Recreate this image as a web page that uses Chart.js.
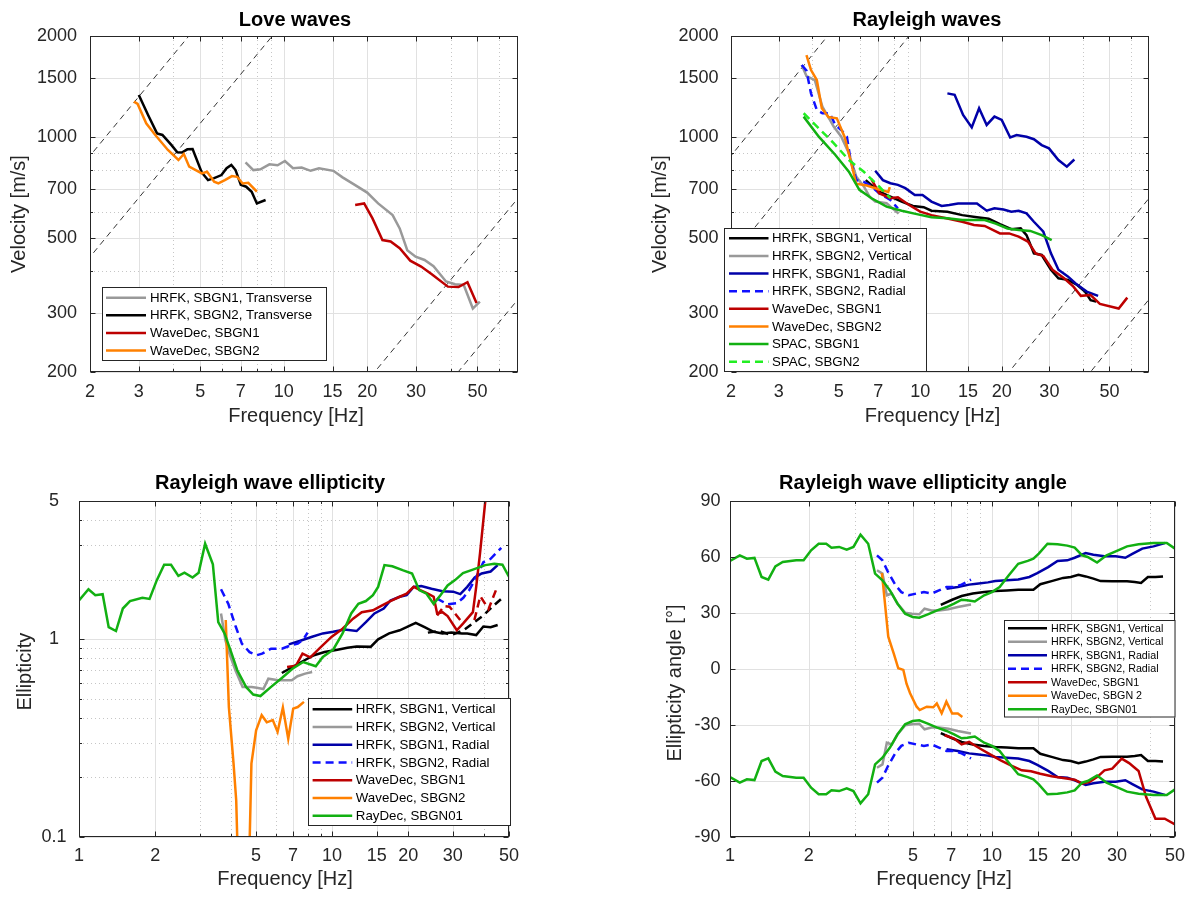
<!DOCTYPE html>
<html>
<head>
<meta charset="utf-8">
<script src="https://cdn.jsdelivr.net/npm/chart.js@4.4.1/dist/chart.umd.min.js"></script>
<style>
  html, body { margin: 0; padding: 0; background: #fff; }
  canvas { position: absolute; left: 0; top: 0; }
</style>
</head>
<body>
<canvas id="love" width="1192" height="897"></canvas>
<canvas id="rayleigh" width="1192" height="897"></canvas>
<canvas id="ellip" width="1192" height="897"></canvas>
<canvas id="angle" width="1192" height="897"></canvas>
<script>
// ---- tick values ----
const velTicks = [200, 300, 500, 700, 1000, 1500, 2000];
const freqTicksTop = [2, 3, 5, 7, 10, 15, 20, 30, 50];
const freqTicksBottom = [1, 2, 5, 7, 10, 15, 20, 30, 50];
const ellTicks = [0.1, 1, 5];
const angTicks = [-90, -60, -30, 0, 30, 60, 90];

// ---- constant-wavelength guide lines (f, v) ----
const guide440 = [[1, 440], [10, 4400]];
const guide220 = [[1, 220], [20, 4400]];
const guide9 = [[10, 94], [100, 940]];
const guide5 = [[10, 47], [100, 470]];

// ---- Love waves: [frequency Hz, velocity m/s] ----
const loveHrfk1T = [[7.28,841],[7.77,798],[8.24,802],[8.88,830],[9.5,825],[10.1,849],[10.8,808],[11.6,812],[12.5,794],[13.4,808],[15.1,794],[16.3,759],[17.8,726],[20.0,684],[21.9,635],[24.7,586],[26.2,535],[27.9,461],[29.9,441],[32.2,431],[34.7,413],[38.5,372],[41.5,365],[44.6,363],[48.1,309],[51.0,324]];
const loveHrfk2T = [[3.0,1334],[3.24,1164],[3.49,1026],[3.65,1015],[3.93,948],[4.13,902],[4.29,900],[4.49,920],[4.69,922],[5.06,785],[5.33,745],[5.61,755],[5.96,771],[6.22,808],[6.47,826],[6.7,798],[7.0,721],[7.32,712],[7.66,688],[8.0,635],[8.6,650]];
const loveWd1 = [[18.1,628],[19.5,635],[20.9,573],[22.7,494],[24.3,489],[26.2,467],[28.6,429],[31.3,412],[34.2,391],[39.1,359],[42.7,358],[46.0,370],[49.6,321]];
const loveWd2 = [[2.88,1276],[2.97,1256],[3.19,1099],[3.44,1015],[3.82,916],[4.17,855],[4.36,891],[4.56,817],[5.06,780],[5.29,789],[5.61,737],[5.81,728],[6.13,745],[6.5,766],[6.79,762],[7.11,728],[7.45,731],[8.0,688]];

// ---- Rayleigh waves: [frequency Hz, velocity m/s] ----
const rayHrfk1V = [[6.29,745],[7.05,688],[7.76,665],[8.54,643],[9.4,624],[10.3,619],[11.0,604],[12.6,600],[14.3,586],[16.2,578],[17.9,572],[19.7,551],[21.7,532],[23.5,535],[24.7,511],[26.3,451],[28.1,446],[30.4,403],[32.4,380],[35.1,376],[38.0,363],[40.6,347],[42.6,327],[44.7,324]];
const rayHrfk2V = [[3.65,1640],[3.8,1520],[4.08,1479],[4.35,1233],[4.79,1075],[5.11,1003],[5.45,895],[5.81,762],[6.19,713],[6.5,665],[6.82,643],[7.51,636],[8.32,592]];
const rayHrfk1R = [[6.82,794],[7.28,745],[7.76,729],[8.27,721],[8.81,705],[9.55,673],[10.2,673],[11.0,643],[12.0,624],[12.8,628],[13.8,635],[16.2,635],[17.6,604],[18.8,614],[20.3,609],[21.7,600],[23.1,604],[24.7,593],[26.3,560],[28.5,523],[30.4,451],[32.4,403],[35.1,385],[37.5,367],[41.2,347],[45.4,337],
  [12.6,null],
  [12.6,1350],[13.4,1337],[14.4,1164],[15.5,1069],[16.5,1219],[17.6,1087],[18.8,1151],[20.0,1125],[21.5,998],[22.7,1014],[24.7,1003],[26.3,986],[28.1,947],[29.9,926],[32.4,855],[34.8,817],[37.1,858]];
const rayHrfk2R = [[3.65,1640],[3.8,1577],[3.95,1350],[4.15,1205],[4.35,1178],[4.63,1178],[4.86,1087],[5.11,1050],[5.36,1003],[5.53,855],[5.81,745],[6.19,736],[6.61,713],[7.05,681],[7.76,650],[8.27,614]];
const rayWd1 = [[6.6,750],[7.05,681],[7.76,658],[8.27,662],[9.1,628],[10.0,600],[11.0,586],[12.6,573],[14.3,560],[15.8,548],[17.3,544],[19.7,517],[21.3,517],[23.1,506],[25.0,489],[26.7,451],[28.5,443],[30.8,403],[34.0,380],[36.8,359],[39.2,337],[42.6,339],[46.1,319],[54.1,309],[58.2,333]];
const rayWd2 = [[3.8,1755],[3.95,1584],[4.15,1479],[4.33,1220],[4.58,1148],[4.92,1138],[5.26,1000],[5.49,873],[5.8,727],[6.35,718],[7.0,700],[7.62,687],[7.72,710]];
const raySpac1 = [[3.71,1151],[4.22,1003],[4.86,885],[5.45,789],[5.96,697],[6.61,658],[7.51,621],[8.54,604],[9.71,590],[11.0,578],[12.6,574],[14.3,567],[17.3,567],[19.0,553],[21.0,535],[23.1,529],[25.5,526],[28.1,511],[30.6,494]];
const raySpac2 = [[3.71,1178],[4.22,1062],[4.79,960],[5.45,855],[6.19,789],[7.05,713],[7.76,658]];

// ---- Rayleigh wave ellipticity: [frequency Hz, H/V] ----
const ellHrfk1V = [[6.33,0.675],[6.97,0.724],[7.69,0.776],[8.48,0.83],[9.34,0.861],[10.5,0.885],[11.5,0.905],[12.5,0.92],[14.2,0.915],[15.2,0.999],[16.8,1.07],[18.5,1.11],[19.7,1.15],[21.4,1.21],[23.2,1.15],[25.2,1.09],[27.3,1.07],[29.6,1.08],[32.6,1.07],[34.2,1.07],[37.1,1.05],[39.6,1.16],[42.3,1.15],[45.1,1.18]];
const ellHrfk1Vb = [[23.9,1.08],[26.5,1.1],[29.6,1.05],[33.1,1.11],[36.5,1.22],[39.6,1.32],[43.0,1.46],[46.6,1.6]];
const ellHrfk2V = [[3.64,1.35],[3.79,0.986],[3.95,0.83],[4.15,0.697],[4.43,0.574],[4.81,0.574],[5.04,0.568],[5.35,0.56],[5.6,0.632],[6.13,0.62],[6.93,0.62],[7.3,0.65],[7.83,0.67],[8.34,0.683]];
const ellHrfk1R = [[6.74,0.942],[7.44,0.98],[8.34,1.03],[9.19,1.07],[10.1,1.09],[11.2,1.12],[12.5,1.1],[13.6,1.22],[14.7,1.35],[16.0,1.43],[17.0,1.57],[18.5,1.64],[19.7,1.67],[21.0,1.84],[22.5,1.86],[24.7,1.8],[27.3,1.75],[30.1,1.74],[32.1,1.69],[34.2,1.84],[36.6,2.05],[39.0,2.15],[42.3,2.2],[45.1,2.37]];
const ellHrfk2R = [[3.64,1.79],[3.89,1.51],[4.15,1.17],[4.4,0.95],[4.72,0.861],[5.04,0.83],[5.29,0.845],[5.74,0.896],[6.33,0.896],[6.86,0.931],[7.32,0.95],[7.69,0.995],[8.0,1.08],
  [8.0,null],
  [25.9,1.61],[28.6,1.5],[31.1,1.52],[33.0,1.62],[34.8,1.77],[36.6,1.99],[39.6,2.45],[42.3,2.55],[46.6,2.9]];
const ellWd1 = [[6.64,0.724],[7.2,0.735],[7.64,0.845],[8.2,0.81],[9.04,0.914],[9.97,1.03],[11.0,1.13],[12.1,1.27],[13.1,1.37],[14.5,1.4],[15.7,1.48],[17.0,1.56],[18.5,1.64],[19.7,1.7],[21.0,1.84],[22.3,1.77],[23.9,1.7],[25.2,1.64],[26.0,1.35],[27.3,1.37],[28.6,1.31],[31.1,1.11],[32.9,1.2],[36.0,1.37],[37.1,1.84],[38.4,2.71],[40.3,5.0],[41.3,6.0]];
const ellWd1b = [[26.0,1.32],[27.7,1.47],[29.1,1.46],[30.6,1.35],[32.6,1.22],
  [32.6,null],
  [36.5,1.25],[38.5,1.65],[41.5,1.42],[45.0,1.85]];
const ellWd2 = [[3.8,1.25],[3.91,0.454],[4.08,0.235],[4.18,0.153],[4.3,0.04],[4.65,0.04],[4.8,0.235],[5.01,0.346],[5.27,0.413],[5.52,0.38],[5.83,0.39],[6.09,0.34],[6.39,0.451],[6.71,0.314],[7.02,0.446],[7.32,0.454],[7.74,0.482]];
const ellRayDec = [[1.0,1.57],[1.09,1.79],[1.16,1.67],[1.24,1.69],[1.31,1.15],[1.4,1.1],[1.49,1.43],[1.59,1.56],[1.78,1.62],[1.9,1.6],[2.03,1.99],[2.17,2.38],[2.31,2.38],[2.47,2.09],[2.61,2.17],[2.81,2.05],[2.97,2.17],[3.15,3.04],[3.38,2.39],[3.55,1.22],[3.76,1.07],[4.01,0.845],[4.22,0.697],[4.57,0.574],[4.88,0.525],[5.21,0.516],[5.74,0.574],[6.33,0.637],[6.97,0.709],[7.69,0.767],[8.62,0.73],[9.19,0.813],[10.1,0.885],[11.0,1.07],[11.9,1.35],[12.7,1.51],[13.6,1.56],[14.5,1.67],[15.2,1.84],[16.1,2.37],[17.3,2.34],[19.1,2.23],[20.7,2.15],[22.1,1.77],[23.6,1.7],[25.2,1.51],[26.8,1.67],[28.6,1.87],[30.6,1.99],[32.9,2.16],[36.0,2.25],[40.3,2.37],[43.7,2.41],[47.1,2.38],[50.1,2.06]];

// ---- Rayleigh wave ellipticity angle: [frequency Hz, degrees], upper and lower branch ----
const angHrfk1V = [[6.38,34.3],[7.05,37.1],[7.66,39.1],[8.45,40.4],[9.34,41.2],[10.3,41.8],[11.4,42.1],[12.6,42.5],[14.4,42.5],[15.3,45.4],[16.9,47.1],[18.7,48.8],[20.0,49.3],[21.4,50.5],[22.8,49.6],[24.4,48.4],[26.0,47.1],[28.8,47.0],[32.8,47.0],[35.1,46.6],[37.1,46.1],[39.4,49.3],[42.1,49.3],[45.0,49.6],
  [45.0,null],
  [6.38,-34.3],[7.05,-37.1],[7.66,-39.1],[8.45,-40.4],[9.34,-41.2],[10.3,-41.8],[11.4,-42.1],[12.6,-42.5],[14.4,-42.5],[15.3,-45.4],[16.9,-47.1],[18.7,-48.8],[20.0,-49.3],[21.4,-50.5],[22.8,-49.6],[24.4,-48.4],[26.0,-47.1],[28.8,-47.0],[32.8,-47.0],[35.1,-46.6],[37.1,-46.1],[39.4,-49.3],[42.1,-49.3],[45.0,-49.6]];
const angHrfk2V = [[3.64,52.9],[3.82,51.1],[3.97,39.5],[4.15,40.4],[4.36,35.0],[4.66,30.2],[4.95,29.6],[5.28,29.3],[5.53,32.3],[5.88,31.4],[6.28,31.4],[6.82,32.0],[7.41,33.2],[8.32,34.5],
  [8.32,null],
  [3.64,-52.9],[3.82,-51.1],[3.97,-39.5],[4.15,-40.4],[4.36,-35.0],[4.66,-30.2],[4.95,-29.6],[5.28,-29.3],[5.53,-32.3],[5.88,-31.4],[6.28,-31.4],[6.82,-32.0],[7.41,-33.2],[8.32,-34.5]];
const angHrfk1R = [[6.71,43.0],[7.41,43.9],[8.18,45.2],[8.74,45.7],[9.66,46.4],[10.3,47.1],[11.4,47.5],[12.6,47.9],[13.9,49.3],[14.9,51.4],[16.4,54.6],[17.8,57.9],[19.4,58.2],[20.7,59.6],[22.8,62.1],[24.4,61.2],[26.9,60.4],[29.7,60.4],[32.3,59.6],[34.5,61.8],[37.5,64.5],[41.4,65.7],[45.7,67.5],
  [45.7,null],
  [6.71,-43.0],[7.41,-43.9],[8.18,-45.2],[8.74,-45.7],[9.66,-46.4],[10.3,-47.1],[11.4,-47.5],[12.6,-47.9],[13.9,-49.3],[14.9,-51.4],[16.4,-54.6],[17.8,-57.9],[19.4,-58.2],[20.7,-59.6],[22.8,-62.1],[24.4,-61.2],[26.9,-60.4],[29.7,-60.4],[32.3,-59.6],[34.5,-61.8],[37.5,-64.5],[41.4,-65.7],[45.7,-67.5]];
const angHrfk2R = [[3.64,60.9],[3.82,58.2],[4.01,52.0],[4.29,44.8],[4.51,41.2],[4.82,39.5],[5.14,40.4],[5.5,41.2],[5.88,40.4],[6.28,42.1],[6.71,43.9],[7.17,43.9],[7.66,45.2],[8.32,47.9],
  [8.32,null],
  [3.64,-60.9],[3.82,-58.2],[4.01,-52.0],[4.29,-44.8],[4.51,-41.2],[4.82,-39.5],[5.14,-40.4],[5.5,-41.2],[5.88,-40.4],[6.28,-42.1],[6.71,-43.9],[7.17,-43.9],[7.66,-45.2],[8.32,-47.9]];
const angWd1 = [[6.6,-35.5],[7.17,-37.3],[7.66,-40.4],[8.18,-39.1],[9.03,-42.7],[10.0,-46.3],[10.8,-48.9],[11.8,-51.6],[13.0,-54.3],[14.1,-54.8],[15.3,-56.1],[16.9,-57.5],[18.7,-58.4],[20.7,-59.3],[22.1,-61.4],[23.6,-60.5],[25.2,-57.9],[26.9,-54.3],[28.8,-53.4],[31.3,-48.0],[33.4,-50.4],[36.3,-54.6],[38.8,-68.6],[42.1,-80.2],[45.7,-80.2],[50,-83.2]];
const angWd2 = [[3.8,51.4],[3.85,43.9],[4.02,17.3],[4.22,8.2],[4.39,0.4],[4.59,-0.5],[4.72,-7.9],[4.87,-13.0],[5.16,-20.2],[5.3,-22.0],[5.64,-20.2],[5.97,-20.5],[6.16,-18.4],[6.43,-23.7],[6.7,-17.5],[7.05,-23.9],[7.41,-23.9],[7.71,-25.7]];
const angRayDec = [[1.0,57.9],[1.09,60.9],[1.16,59.1],[1.24,59.5],[1.32,49.3],[1.4,47.9],[1.49,55.0],[1.59,57.3],[1.79,58.2],[1.91,58.2],[2.04,63.6],[2.18,67.1],[2.33,67.1],[2.44,65.0],[2.61,65.4],[2.79,63.9],[2.96,65.4],[3.15,72.0],[3.37,67.1],[3.58,51.1],[3.82,47.5],[4.08,42.1],[4.36,35.0],[4.66,29.6],[4.98,27.9],[5.28,27.5],[5.69,29.3],[6.18,31.4],[6.71,33.2],[7.17,35.0],[7.66,37.1],[8.05,36.8],[8.6,36.2],[9.34,39.5],[10.0,41.2],[10.7,43.9],[11.6,50.2],[12.6,56.4],[13.7,57.9],[14.4,59.1],[15.1,61.8],[16.3,67.1],[17.8,66.8],[19.4,66.1],[20.7,65.0],[22.1,60.9],[23.2,60.0],[25.2,57.0],[27.4,60.9],[30.3,63.6],[32.8,65.7],[36.3,66.8],[41.4,67.5],[46.5,67.5],[50,64.5],
  [50,null],
  [1.0,-57.9],[1.09,-60.9],[1.16,-59.1],[1.24,-59.5],[1.32,-49.3],[1.4,-47.9],[1.49,-55.0],[1.59,-57.3],[1.79,-58.2],[1.91,-58.2],[2.04,-63.6],[2.18,-67.1],[2.33,-67.1],[2.44,-65.0],[2.61,-65.4],[2.79,-63.9],[2.96,-65.4],[3.15,-72.0],[3.37,-67.1],[3.58,-51.1],[3.82,-47.5],[4.08,-42.1],[4.36,-35.0],[4.66,-29.6],[4.98,-27.9],[5.28,-27.5],[5.69,-29.3],[6.18,-31.4],[6.71,-33.2],[7.17,-35.0],[7.66,-37.1],[8.05,-36.8],[8.6,-36.2],[9.34,-39.5],[10.0,-41.2],[10.7,-43.9],[11.6,-50.2],[12.6,-56.4],[13.7,-57.9],[14.4,-59.1],[15.1,-61.8],[16.3,-67.1],[17.8,-66.8],[19.4,-66.1],[20.7,-65.0],[22.1,-60.9],[23.2,-60.0],[25.2,-57.0],[27.4,-60.9],[30.3,-63.6],[32.8,-65.7],[36.3,-66.8],[41.4,-67.5],[46.5,-67.5],[50,-64.5]];

// ---- look ----
const INK = '#262626';
const FAM = '"Liberation Sans", Arial, Helvetica, sans-serif';
const C = { black: '#000000', gray: '#999999', navy: '#0000a8', blue: '#1010ff', red: '#bd0000', orange: '#ff8000', green: '#12b012', lime: '#22ee22' };
const DASH = [8, 5];

const xy = a => a.map(p => ({ x: p[0], y: p[1] }));
const series = (label, data, color, dash) => ({
  label, data: xy(data), borderColor: color, borderWidth: 2.5, borderDash: dash || [],
  pointRadius: 0, tension: 0, fill: false, spanGaps: false, clip: 0
});
const guide = data => ({ data: xy(data), borderColor: '#000', borderWidth: 0.8, borderDash: [6, 4.5], pointRadius: 0, tension: 0, clip: 0 });

function logMinor(min, max, majors) {
  const out = [];
  for (let e = -2; e <= 3; e++) for (let k = 1; k <= 9; k++) {
    const v = +(k * Math.pow(10, e)).toPrecision(4);
    if (v > min && v < max && !majors.some(m => Math.abs(m - v) < 1e-6 * v)) out.push(v);
  }
  return out;
}

function seg(ctx, x1, y1, x2, y2) { ctx.beginPath(); ctx.moveTo(x1, y1); ctx.lineTo(x2, y2); ctx.stroke(); }

const matlabLook = {
  id: 'matlabLook',
  beforeDatasetsDraw(chart, args, o) {
    const { ctx, chartArea: a } = chart, sx = chart.scales.x, sy = chart.scales.y;
    ctx.save();
    ctx.lineWidth = 1;
    ctx.strokeStyle = '#c6c6c6';
    ctx.setLineDash([1, 3]);
    o.xMinor.forEach(v => { const p = Math.round(sx.getPixelForValue(v)) + 0.5; seg(ctx, p, a.top, p, a.bottom); });
    o.yMinor.forEach(v => { const p = Math.round(sy.getPixelForValue(v)) + 0.5; seg(ctx, a.left, p, a.right, p); });
    ctx.setLineDash([]);
    ctx.strokeStyle = '#e1e1e1';
    o.xMajor.forEach(v => { const p = Math.round(sx.getPixelForValue(v)) + 0.5; seg(ctx, p, a.top, p, a.bottom); });
    o.yMajor.forEach(v => { const p = Math.round(sy.getPixelForValue(v)) + 0.5; seg(ctx, a.left, p, a.right, p); });
    ctx.restore();
  },
  afterDatasetsDraw(chart, args, o) {
    const { ctx, chartArea: a } = chart, sx = chart.scales.x, sy = chart.scales.y;
    ctx.save();
    ctx.strokeStyle = INK;
    ctx.lineWidth = 1;
    const L = a.left + 0.5, R = a.right - 0.5, T = a.top + 0.5, B = a.bottom - 0.5;
    ctx.strokeRect(L, T, R - L, B - T);
    [[o.xMajor, 5], [o.xMinor, 2.5]].forEach(([vals, len]) => vals.forEach(v => {
      const p = Math.round(sx.getPixelForValue(v)) + 0.5;
      seg(ctx, p, B, p, B - len); seg(ctx, p, T, p, T + len);
    }));
    [[o.yMajor, 5], [o.yMinor, 2.5]].forEach(([vals, len]) => vals.forEach(v => {
      const p = Math.round(sy.getPixelForValue(v)) + 0.5;
      seg(ctx, L, p, L + len, p); seg(ctx, R, p, R - len, p);
    }));

    // legend box
    const lg = o.legend;
    ctx.fillStyle = '#fff';
    ctx.fillRect(lg.x, lg.y, lg.w, lg.h);
    ctx.strokeRect(lg.x + 0.5, lg.y + 0.5, lg.w - 1, lg.h - 1);
    let row = 0;
    chart.data.datasets.forEach(ds => {
      if (!ds.label) return;
      const yy = lg.row0 + row * lg.step;
      ctx.strokeStyle = ds.borderColor;
      ctx.lineWidth = ds.borderWidth;
      ctx.setLineDash(ds.borderDash);
      seg(ctx, lg.x1, yy, lg.x2, yy);
      ctx.setLineDash([]);
      ctx.fillStyle = '#000';
      ctx.font = lg.size + 'px ' + FAM;
      ctx.textAlign = 'left';
      ctx.textBaseline = 'middle';
      ctx.fillText(ds.label, lg.tx, yy + 0.5);
      row++;
    });

    // title and axis labels
    ctx.textAlign = 'center';
    ctx.textBaseline = 'middle';
    ctx.fillStyle = '#000';
    ctx.font = 'bold 20px ' + FAM;
    ctx.fillText(o.title[0], o.title[1], o.title[2]);
    ctx.fillStyle = INK;
    ctx.font = '20px ' + FAM;
    ctx.fillText(o.xlabel[0], o.xlabel[1], o.xlabel[2]);
    ctx.translate(o.ylabel[1], o.ylabel[2]);
    ctx.rotate(-Math.PI / 2);
    ctx.fillText(o.ylabel[0], 0, 0);
    ctx.restore();
  }
};

function makeChart(id, box, xr, xt, yr, yt, yType, yTick, datasets, look) {
  const [L, T, R, B] = box;
  datasets.forEach((d, i) => { d.order = -i; });
  look.xMajor = xt;
  look.yMajor = yt;
  look.xMinor = logMinor(xr[0], xr[1], xt);
  look.yMinor = yType === 'logarithmic' ? logMinor(yr[0], yr[1], yt) : [];
  const tickFont = { family: FAM, size: 18 };
  return new Chart(document.getElementById(id), {
    type: 'line',
    data: { datasets },
    options: {
      responsive: false, animation: false, devicePixelRatio: 1, events: [],
      layout: { padding: { left: L - 70, top: T, right: 1192 - R, bottom: 897 - B - 40 } },
      plugins: { legend: { display: false }, tooltip: { enabled: false }, title: { display: false }, matlabLook: look },
      scales: {
        x: {
          type: 'logarithmic', min: xr[0], max: xr[1],
          grid: { display: false, drawTicks: false }, border: { display: false },
          afterBuildTicks: s => { s.ticks = xt.map(v => ({ value: v })); },
          afterFit: s => { s.height = 40; s.paddingLeft = 0; s.paddingRight = 0; },
          ticks: { autoSkip: false, maxRotation: 0, minRotation: 0, padding: yTick.xpad, color: INK, font: tickFont, callback: v => String(v) }
        },
        y: {
          type: yType, min: yr[0], max: yr[1],
          grid: { display: false, drawTicks: false }, border: { display: false },
          afterBuildTicks: s => { s.ticks = yt.map(v => ({ value: v })); },
          afterFit: s => { s.width = 70; s.paddingTop = 0; s.paddingBottom = 0; },
          ticks: { autoSkip: false, padding: yTick.pad, crossAlign: yTick.align, color: INK, font: tickFont, callback: v => String(v) }
        }
      }
    },
    plugins: [matlabLook]
  });
}

makeChart('love', [90, 36, 518, 372], [2, 70], freqTicksTop, [200, 2000], velTicks, 'logarithmic', { pad: 13, align: 'near', xpad: 9 }, [
  guide(guide440), guide(guide220), guide(guide9), guide(guide5),
  series('HRFK, SBGN1, Transverse', loveHrfk1T, C.gray),
  series('HRFK, SBGN2, Transverse', loveHrfk2T, C.black),
  series('WaveDec, SBGN1', loveWd1, C.red),
  series('WaveDec, SBGN2', loveWd2, C.orange)
], {
  title: ['Love waves', 295, 20], xlabel: ['Frequency [Hz]', 296, 416.5], ylabel: ['Velocity [m/s]', 19.5, 214],
  legend: { x: 102, y: 287, w: 225, h: 74, x1: 106, x2: 146, tx: 150, row0: 297.7, step: 17.6, size: 13.3 }
});

makeChart('rayleigh', [731, 36, 1149, 372], [2, 70], freqTicksTop, [200, 2000], velTicks, 'logarithmic', { pad: 12.5, align: 'near', xpad: 9 }, [
  guide(guide440), guide(guide220), guide(guide9), guide(guide5),
  series('HRFK, SBGN1, Vertical', rayHrfk1V, C.black),
  series('HRFK, SBGN2, Vertical', rayHrfk2V, C.gray),
  series('HRFK, SBGN1, Radial', rayHrfk1R, C.navy),
  series('HRFK, SBGN2, Radial', rayHrfk2R, C.blue, DASH),
  series('WaveDec, SBGN1', rayWd1, C.red),
  series('WaveDec, SBGN2', rayWd2, C.orange),
  series('SPAC, SBGN1', raySpac1, C.green),
  series('SPAC, SBGN2', raySpac2, C.lime, DASH)
], {
  title: ['Rayleigh waves', 927, 20], xlabel: ['Frequency [Hz]', 932.5, 416.5], ylabel: ['Velocity [m/s]', 660.3, 214],
  legend: { x: 724, y: 228, w: 203, h: 144, x1: 729, x2: 768.5, tx: 772, row0: 238.3, step: 17.63, size: 13.3 }
});

makeChart('ellip', [79, 501, 509, 837], [1, 50], freqTicksBottom, [0.1, 5], ellTicks, 'logarithmic', { pad: 12.4, align: 'center', xpad: 8 }, [
  series('HRFK, SBGN1, Vertical', ellHrfk1V, C.black),
  series(undefined, ellHrfk1Vb, C.black, DASH),
  series('HRFK, SBGN2, Vertical', ellHrfk2V, C.gray),
  series('HRFK, SBGN1, Radial', ellHrfk1R, C.navy),
  series('HRFK, SBGN2, Radial', ellHrfk2R, C.blue, DASH),
  series('WaveDec, SBGN1', ellWd1, C.red),
  series(undefined, ellWd1b, C.red, DASH),
  series('WaveDec, SBGN2', ellWd2, C.orange),
  series('RayDec, SBGN01', ellRayDec, C.green)
], {
  title: ['Rayleigh wave ellipticity', 270, 483], xlabel: ['Frequency [Hz]', 285, 879.8], ylabel: ['Ellipticity', 25.4, 671.7],
  legend: { x: 308, y: 698, w: 203, h: 128, x1: 312.6, x2: 352.2, tx: 355.8, row0: 709.3, step: 17.73, size: 13.3 }
});

makeChart('angle', [730, 501, 1175, 837], [1, 50], freqTicksBottom, [-90, 90], angTicks, 'linear', { pad: 9.5, align: 'near', xpad: 8 }, [
  series('HRFK, SBGN1, Vertical', angHrfk1V, C.black),
  series('HRFK, SBGN2, Vertical', angHrfk2V, C.gray),
  series('HRFK, SBGN1, Radial', angHrfk1R, C.navy),
  series('HRFK, SBGN2, Radial', angHrfk2R, C.blue, DASH),
  series('WaveDec, SBGN1', angWd1, C.red),
  series('WaveDec, SBGN 2', angWd2, C.orange),
  series('RayDec, SBGN01', angRayDec, C.green)
], {
  title: ['Rayleigh wave ellipticity angle', 923, 483], xlabel: ['Frequency [Hz]', 944, 879.8], ylabel: ['Ellipticity angle [°]', 675.7, 683],
  legend: { x: 1004, y: 620, w: 171.5, h: 97.5, x1: 1008, x2: 1047, tx: 1051, row0: 628.3, step: 13.5, size: 10.7 }
});
</script>
</body>
</html>
